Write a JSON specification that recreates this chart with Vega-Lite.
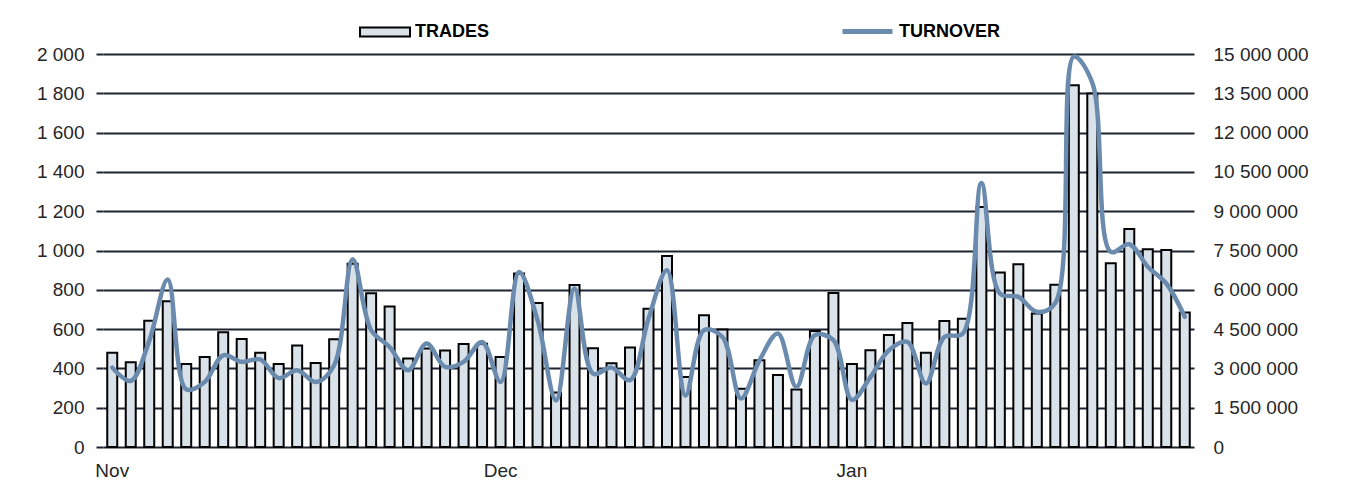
{
  "$schema": "https://vega.github.io/schema/vega-lite/v6.json",
  "width": 1091,
  "height": 393,
  "autosize": {"type": "none"},
  "padding": {"left": 103, "top": 54, "right": 152, "bottom": 41},
  "background": "white",
  "config": {"view": {"stroke": null}, "font": "Liberation Sans"},
  "data": {
    "values": [
      {"i": 1, "trades": 480, "turnover": 3030000},
      {"i": 2, "trades": 431, "turnover": 2520000},
      {"i": 3, "trades": 643, "turnover": 4050000},
      {"i": 4, "trades": 742, "turnover": 6390000},
      {"i": 5, "trades": 423, "turnover": 2200000},
      {"i": 6, "trades": 458, "turnover": 2480000},
      {"i": 7, "trades": 584, "turnover": 3500000},
      {"i": 8, "trades": 550, "turnover": 3250000},
      {"i": 9, "trades": 480, "turnover": 3340000},
      {"i": 10, "trades": 423, "turnover": 2630000},
      {"i": 11, "trades": 516, "turnover": 2930000},
      {"i": 12, "trades": 428, "turnover": 2480000},
      {"i": 13, "trades": 548, "turnover": 3120000},
      {"i": 14, "trades": 932, "turnover": 7170000},
      {"i": 15, "trades": 782, "turnover": 4460000},
      {"i": 16, "trades": 715, "turnover": 3820000},
      {"i": 17, "trades": 450, "turnover": 2930000},
      {"i": 18, "trades": 501, "turnover": 3950000},
      {"i": 19, "trades": 491, "turnover": 3060000},
      {"i": 20, "trades": 524, "turnover": 3250000},
      {"i": 21, "trades": 526, "turnover": 4010000},
      {"i": 22, "trades": 458, "turnover": 2480000},
      {"i": 23, "trades": 883, "turnover": 6680000},
      {"i": 24, "trades": 733, "turnover": 4840000},
      {"i": 25, "trades": 277, "turnover": 1780000},
      {"i": 26, "trades": 825, "turnover": 6050000},
      {"i": 27, "trades": 502, "turnover": 2800000},
      {"i": 28, "trades": 426, "turnover": 3030000},
      {"i": 29, "trades": 506, "turnover": 2550000},
      {"i": 30, "trades": 704, "turnover": 4900000},
      {"i": 31, "trades": 972, "turnover": 6750000},
      {"i": 32, "trades": 356, "turnover": 1970000},
      {"i": 33, "trades": 670, "turnover": 4460000},
      {"i": 34, "trades": 598, "turnover": 4200000},
      {"i": 35, "trades": 297, "turnover": 1850000},
      {"i": 36, "trades": 441, "turnover": 3310000},
      {"i": 37, "trades": 366, "turnover": 4330000},
      {"i": 38, "trades": 292, "turnover": 2290000},
      {"i": 39, "trades": 590, "turnover": 4270000},
      {"i": 40, "trades": 784, "turnover": 4080000},
      {"i": 41, "trades": 423, "turnover": 1800000},
      {"i": 42, "trades": 492, "turnover": 2670000},
      {"i": 43, "trades": 570, "turnover": 3690000},
      {"i": 44, "trades": 631, "turnover": 4010000},
      {"i": 45, "trades": 480, "turnover": 2420000},
      {"i": 46, "trades": 641, "turnover": 4200000},
      {"i": 47, "trades": 653, "turnover": 4330000},
      {"i": 48, "trades": 1222, "turnover": 10080000},
      {"i": 49, "trades": 888, "turnover": 5860000},
      {"i": 50, "trades": 930, "turnover": 5730000},
      {"i": 51, "trades": 680, "turnover": 5160000},
      {"i": 52, "trades": 826, "turnover": 5500000},
      {"i": 53, "trades": 1841, "turnover": 14900000},
      {"i": 54, "trades": 1799, "turnover": 13900000},
      {"i": 55, "trades": 935, "turnover": 7450000},
      {"i": 56, "trades": 1110, "turnover": 7740000},
      {"i": 57, "trades": 1006, "turnover": 6880000},
      {"i": 58, "trades": 1003, "turnover": 6240000},
      {"i": 59, "trades": 684, "turnover": 4970000}
    ]
  },
  "encoding": {
    "x": {
      "field": "i",
      "type": "ordinal",
      "scale": {"paddingInner": 0.46, "paddingOuter": 0.23},
      "axis": {
        "values": [1, 22, 41],
        "labelExpr": "datum.value == 1 ? 'Nov' : (datum.value == 22 ? 'Dec' : 'Jan')",
        "title": null,
        "domain": false,
        "ticks": false,
        "grid": false,
        "labelAngle": 0,
        "labelFontSize": 19,
        "labelPadding": 14,
        "labelColor": "#262626"
      }
    }
  },
  "layer": [
    {
      "mark": {"type": "bar", "stroke": "black", "strokeWidth": 2},
      "encoding": {
        "y": {
          "field": "trades",
          "type": "quantitative",
          "scale": {"domain": [0, 2000]},
          "axis": {
            "values": [0, 200, 400, 600, 800, 1000, 1200, 1400, 1600, 1800, 2000],
            "labelExpr": "replace(format(datum.value, ','), regexp(',', 'g'), ' ')",
            "title": null,
            "grid": true,
            "gridColor": "#1c2431",
            "gridWidth": 2,
            "gridOpacity": 1,
            "domain": false,
            "tickColor": "#1c2431",
            "tickSize": 7,
            "tickWidth": 2,
            "labelFontSize": 19,
            "labelPadding": 12,
            "labelColor": "#262626"
          }
        },
        "fill": {
          "datum": "TRADES",
          "type": "nominal",
          "scale": {"range": ["#d9e1e9"]},
          "legend": {
            "orient": "none",
            "legendX": 256,
            "legendY": -48,
            "title": null,
            "padding": 0,
            "symbolType": "M-1,-0.18H1V0.18H-1Z",
            "symbolSize": 2500,
            "symbolStrokeColor": "black",
            "symbolStrokeWidth": 2,
            "labelFontSize": 18,
            "labelFontWeight": "bold",
            "labelColor": "black",
            "labelOffset": 4
          }
        }
      }
    },
    {
      "mark": {"type": "line", "interpolate": "catmull-rom", "strokeWidth": 4.5, "strokeCap": "round", "strokeJoin": "round"},
      "encoding": {
        "y": {
          "field": "turnover",
          "type": "quantitative",
          "scale": {"domain": [0, 15000000]},
          "axis": {
            "orient": "right",
            "values": [0, 1500000, 3000000, 4500000, 6000000, 7500000, 9000000, 10500000, 12000000, 13500000, 15000000],
            "labelExpr": "replace(format(datum.value, ','), regexp(',', 'g'), ' ')",
            "title": null,
            "grid": false,
            "domain": false,
            "ticks": false,
            "labelFontSize": 19,
            "labelPadding": 19,
            "labelColor": "#262626"
          }
        },
        "stroke": {
          "datum": "TURNOVER",
          "type": "nominal",
          "scale": {"range": ["#6b8bae"]},
          "legend": {
            "orient": "none",
            "legendX": 737,
            "legendY": -50,
            "title": null,
            "padding": 0,
            "symbolType": "stroke",
            "symbolSize": 2500,
            "symbolStrokeWidth": 5,
            "labelFontSize": 18,
            "labelFontWeight": "bold",
            "labelColor": "black",
            "labelOffset": 4
          }
        }
      }
    }
  ],
  "resolve": {"scale": {"y": "independent"}}
}
